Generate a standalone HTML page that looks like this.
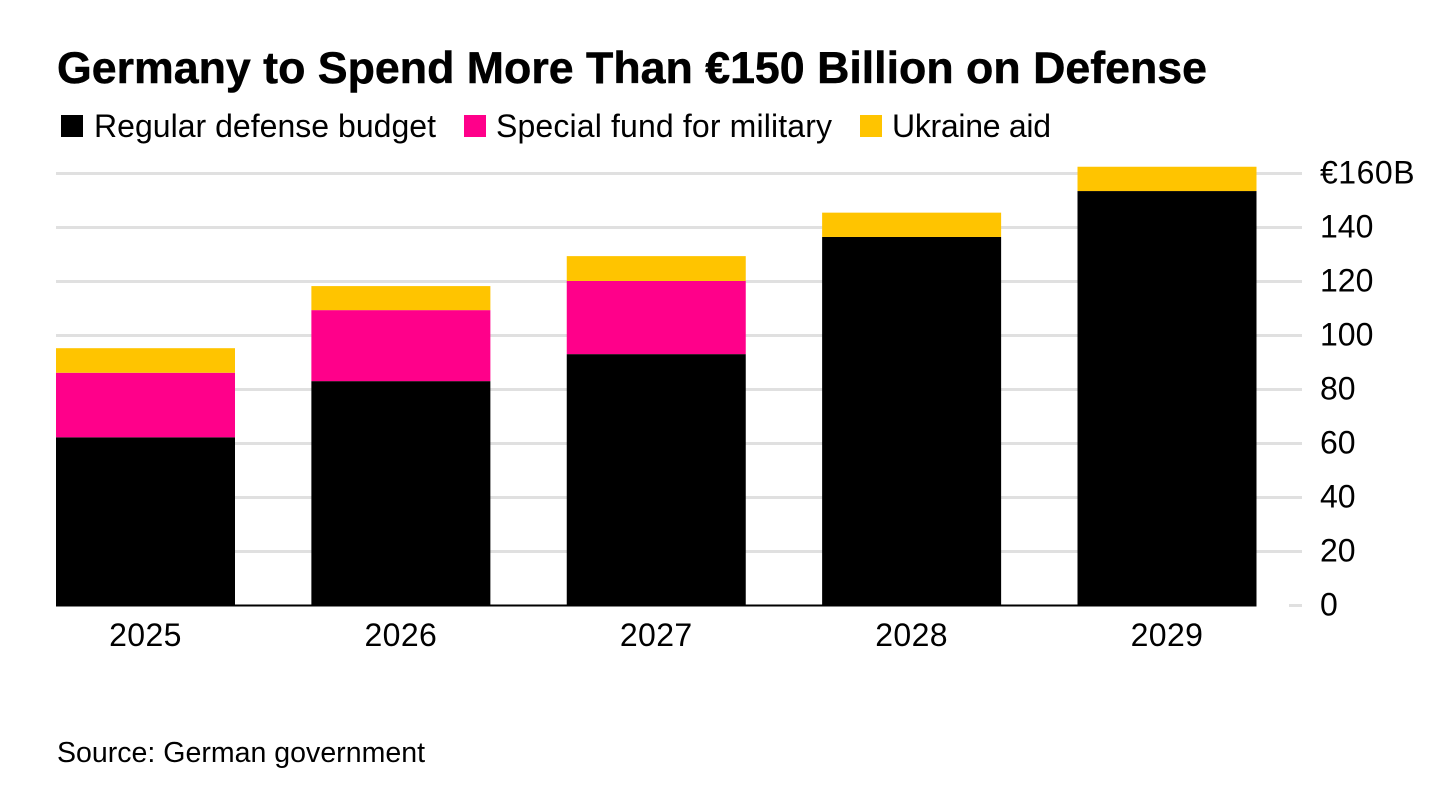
<!DOCTYPE html>
<html lang="en">
<head>
<meta charset="utf-8">
<title>Germany to Spend More Than €150 Billion on Defense</title>
<style>
  html, body { margin: 0; padding: 0; background: #fff; }
  svg { display: block; font-family: "Liberation Sans", sans-serif; }
</style>
</head>
<body>
<svg id="chart" width="1454" height="806" viewBox="0 0 1454 806" xmlns="http://www.w3.org/2000/svg">
  <rect x="0" y="0" width="1454" height="806" fill="#ffffff"/>
  <text x="57" y="83" font-size="44.7" font-weight="700" fill="#000" stroke="#000" stroke-width="0.5" textLength="1150" lengthAdjust="spacing">Germany to Spend More Than €150 Billion on Defense</text>
  <g>
    <rect x="61" y="115" width="22" height="22" fill="#000000"/>
    <text x="94" y="137" font-size="32" fill="#000" textLength="342" lengthAdjust="spacing">Regular defense budget</text>
    <rect x="464" y="115" width="22" height="22" fill="#ff008a"/>
    <text x="496" y="137" font-size="32" fill="#000" textLength="336" lengthAdjust="spacing">Special fund for military</text>
    <rect x="860" y="115" width="22" height="22" fill="#ffc400"/>
    <text x="892" y="137" font-size="32" fill="#000" textLength="159" lengthAdjust="spacing">Ukraine aid</text>
  </g>
  <g id="grid"></g>
  <g id="bars"></g>
  <g id="yticks"></g>
  <g id="xticks"></g>
  <text x="57" y="762" font-size="28.5" fill="#000" textLength="368" lengthAdjust="spacing">Source: German government</text>
</svg>
<script>
const years = ["2025", "2026", "2027", "2028", "2029"];
const regularBudget = [62.3, 83.1, 93.1, 136.5, 153.5];
const specialFund = [23.9, 26.3, 27.1, 0, 0];
const ukraineAid = [9.1, 8.9, 9.2, 9, 9];
const yTicks = [0, 20, 40, 60, 80, 100, 120, 140, 160];
const yTickLabels = ["0", "20", "40", "60", "80", "100", "120", "140", "€160B"];

const NS = "http://www.w3.org/2000/svg";
const plotLeft = 56, plotRight = 1256.5, gridRight = 1302, y0 = 605.5, pxPerUnit = 2.7;
const barWidth = 179;

function yScale(v) { return y0 - v * pxPerUnit; }
function xScale(i) {
  const step = (plotRight - plotLeft - barWidth) / (years.length - 1);
  return plotLeft + i * step;
}
function make(tag, attrs) {
  const el = document.createElementNS(NS, tag);
  for (const k in attrs) el.setAttribute(k, attrs[k]);
  return el;
}

const grid = document.getElementById("grid");
const bars = document.getElementById("bars");
const yG = document.getElementById("yticks");
const xG = document.getElementById("xticks");

yTicks.forEach(function (t, i) {
  const y = yScale(t);
  const line = make("rect", {
    x: t === 0 ? 1289 : plotLeft,
    y: y - 1.5,
    width: t === 0 ? gridRight - 1289 : gridRight - plotLeft,
    height: 3,
    fill: "#e0e0e0"
  });
  
  
  grid.appendChild(line);

  const label = make("text", {
    x: 1320,
    y: y + 10,
    "font-size": 32,
    "letter-spacing": t === 160 ? 0.5 : 0,
    fill: "#000"
  });
  label.textContent = yTickLabels[i];
  
  
  yG.appendChild(label);
});

const baseline = make("rect", { x: plotLeft, y: y0 - 1, width: plotRight - plotLeft, height: 2, fill: "#000" });


grid.appendChild(baseline);

function addSegment(i, start, value, color, name) {
  if (value <= 0) return;
  const top = yScale(start + value);
  const seg = make("rect", {
    x: xScale(i),
    y: top,
    width: barWidth,
    height: yScale(start) - top,
    fill: color
  });
  
  
  bars.appendChild(seg);
}

years.forEach(function (yr, i) {
  addSegment(i, 0, regularBudget[i], "#000000", "bar-regular-budget");
  addSegment(i, regularBudget[i], specialFund[i], "#ff008a", "bar-special-fund");
  addSegment(i, regularBudget[i] + specialFund[i], ukraineAid[i], "#ffc400", "bar-ukraine-aid");

  const label = make("text", {
    x: xScale(i) + barWidth / 2,
    y: 646,
    "font-size": 32,
    "letter-spacing": 0.4,
    "text-anchor": "middle",
    fill: "#000"
  });
  label.textContent = yr;
  
  
  xG.appendChild(label);
});
</script>
</body>
</html>
